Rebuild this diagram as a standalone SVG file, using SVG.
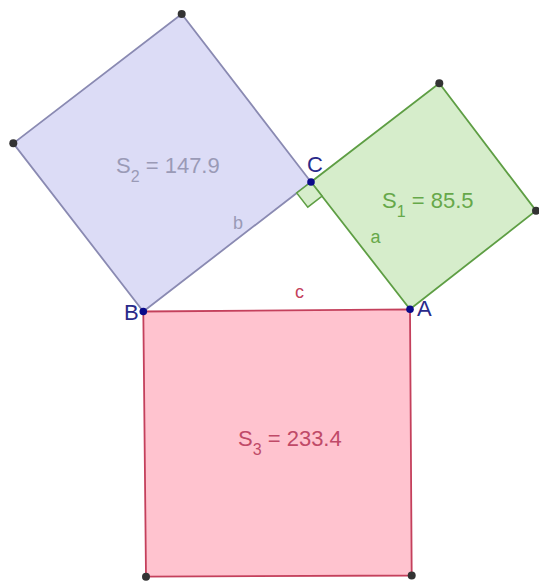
<svg xmlns="http://www.w3.org/2000/svg" width="539" height="583" viewBox="0 0 539 583">
<style>
text{font-family:"Liberation Sans",Arial,sans-serif;}
.lbl{font-size:22px;}
.sub{font-size:16px;}
.pt{fill:#333333;}
.vx{fill:#0a0a8a;}
.nm{font-size:22px;fill:#2a2a8a;}
</style>
<rect width="539" height="583" fill="#ffffff"/>
<g id="square-S2">
<polygon points="143.3,311.5 311,182 181.7,14 13.3,143.3" fill="#dcdcf6" stroke="#8a8ab2" stroke-width="1.8"/>
<text class="lbl" x="116" y="173" fill="#9a9ab6">S<tspan class="sub" dy="9">2</tspan><tspan dy="-9"> = 147.9</tspan></text>
<text x="233" y="229" font-size="18" fill="#9a9ab6">b</text>
</g>
<g id="square-S1">
<polygon points="311,182 410,309.3 536,210.7 439.3,83.3" fill="#d6edcb" stroke="#5e9e44" stroke-width="1.8"/>
<text class="lbl" x="382" y="207.5" fill="#66a84a">S<tspan class="sub" dy="9">1</tspan><tspan dy="-9"> = 85.5</tspan></text>
<text x="370.5" y="242.5" font-size="18" fill="#66a84a">a</text>
</g>
<g id="square-S3">
<polygon points="143.3,311.5 410,309.3 411.7,575.5 146,576.7" fill="#ffc3cf" stroke="#c4405c" stroke-width="1.8"/>
<text class="lbl" x="238" y="445.5" fill="#c04a68">S<tspan class="sub" dy="9">3</tspan><tspan dy="-9"> = 233.4</tspan></text>
<text x="295" y="297.5" font-size="18" fill="#c4405c">c</text>
</g>
<g id="right-angle">
<polygon points="311,182 296.7,193 307.8,207.2 322.1,196.2" fill="#d6edcb" stroke="#5e9e44" stroke-width="1.5"/>
</g>
<g id="points">
<circle class="pt" cx="181.7" cy="14" r="4"/>
<circle class="pt" cx="13.3" cy="143.3" r="4"/>
<circle class="pt" cx="439.3" cy="83.3" r="4"/>
<circle class="pt" cx="536" cy="210.7" r="4"/>
<circle class="pt" cx="146" cy="576.7" r="4"/>
<circle class="pt" cx="411.7" cy="575.5" r="4"/>
<circle class="vx" cx="143.3" cy="311.5" r="3.8"/>
<circle class="vx" cx="410" cy="309.3" r="3.8"/>
<circle class="vx" cx="311" cy="182" r="3.8"/>
<text class="nm" x="124" y="320">B</text>
<text class="nm" x="417" y="315.5">A</text>
<text class="nm" x="307" y="171.5">C</text>
</g>
</svg>
